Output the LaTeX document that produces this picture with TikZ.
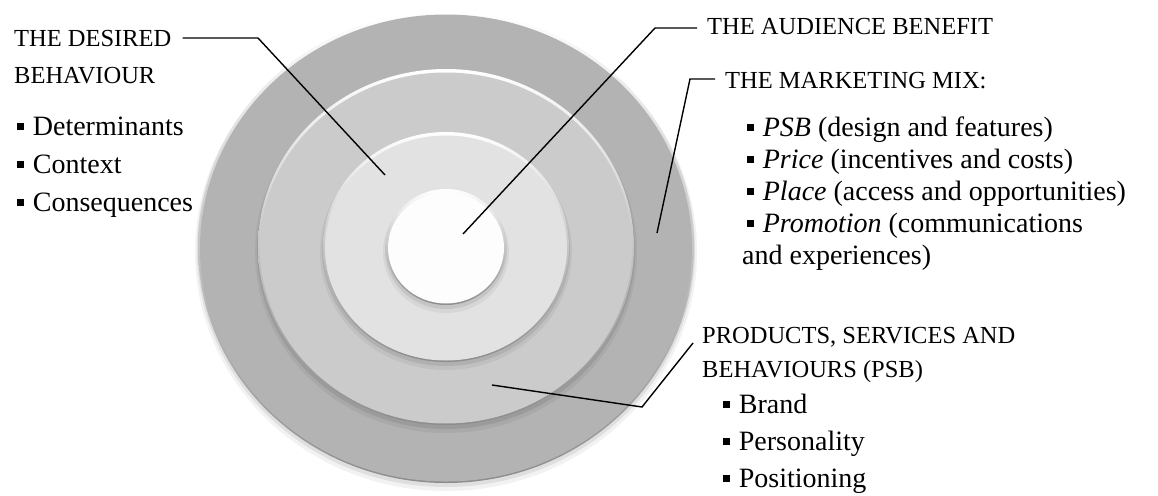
\documentclass[tikz,border=0pt]{standalone}
\usepackage{fontspec}
\setmainfont{Liberation Serif}
\definecolor{ringA}{HTML}{B3B3B3}
\definecolor{ringB}{HTML}{CBCBCB}
\definecolor{ringC}{HTML}{E2E2E2}
\definecolor{ringD}{HTML}{FDFDFD}
\newcommand\sqbul{\rule[0.17em]{0.26em}{0.26em}\hspace{0.3em}}
\newcommand\ringdisc[3]{%
  \fill[black, opacity=0.05] (446,252) ellipse [x radius=#1pt+3pt, y radius=#2pt+3pt];
  \fill[black, opacity=0.08] (446,250) ellipse [x radius=#1pt+1pt, y radius=#2pt+1pt];
  \shade[top color=white, bottom color=black!45] (446,247) ellipse [x radius=#1pt, y radius=#2pt];
  \fill[#3] (446,248) ellipse [x radius=#1pt-2pt, y radius=#2pt-2.5pt];
}
\tikzset{
  lead/.style={draw=black, line width=1.4pt, line join=miter},
  head/.style={anchor=base west, inner sep=0pt, font=\fontsize{24.5}{29}\selectfont},
  body/.style={anchor=base west, inner sep=0pt, font=\fontsize{28}{33}\selectfont},
}
\begin{document}
\begin{tikzpicture}[x=1pt, y=-1pt]
\useasboundingbox (0,0) rectangle (1158,495);
\fill[white] (0,0) rectangle (1158,495);
% rings
\ringdisc{248}{236}{ringA}
\ringdisc{188}{178}{ringB}
\ringdisc{123}{115}{ringC}
\ringdisc{60}{58}{ringD}
% left block
\node[head] (des1) at (14,47) {THE DESIRED};
\node[head] (des2) at (14,83) {BEHAVIOUR};
\node[body] (desa) at (17,135) {\sqbul Determinants};
\node[body] (desb) at (17,173) {\sqbul Context};
\node[body] (desc) at (17,211) {\sqbul Consequences};
% audience benefit
\node[head] (aud) at (707,35) {THE AUDIENCE BENEFIT};
% marketing mix
\node[head] (mkt) at (725,88) {THE MARKETING MIX:};
\node[body] (mkta) at (747,136) {\sqbul\textit{PSB} (design and features)};
\node[body] (mktb) at (747,168) {\sqbul\textit{Price} (incentives and costs)};
\node[body] (mktc) at (747,200) {\sqbul\textit{Place} (access and opportunities)};
\node[body] (mktd) at (747,232) {\sqbul\textit{Promotion} (communications};
\node[body] (mkte) at (742,264) {and experiences)};
% products
\node[head] (psb1) at (702,343) {PRODUCTS, SERVICES AND};
\node[head] (psb2) at (702,377) {BEHAVIOURS (PSB)};
\node[body] (psba) at (723,413) {\sqbul Brand};
\node[body] (psbb) at (723,450) {\sqbul Personality};
\node[body] (psbc) at (723,487) {\sqbul Positioning};
% leader points
\coordinate (dk) at (258,38);
\coordinate (de) at (385,175);
\coordinate (ak) at (655,28);
\coordinate (ae) at (463,234);
\coordinate (mk) at (690,79);
\coordinate (me) at (657,233);
\coordinate (pk) at (642,407);
\coordinate (pe) at (492,385);
\draw[lead] ([xshift=11pt,yshift=9pt]des1.base east) -- (dk) -- (de);
\draw[lead] ([xshift=-10pt,yshift=7pt]aud.base west) -- (ak) -- (ae);
\draw[lead] ([xshift=-10pt,yshift=9pt]mkt.base west) -- (mk) -- (me);
\draw[lead] ([xshift=-9pt]psb1.base west) -- (pk) -- (pe);
\end{tikzpicture}
\end{document}
